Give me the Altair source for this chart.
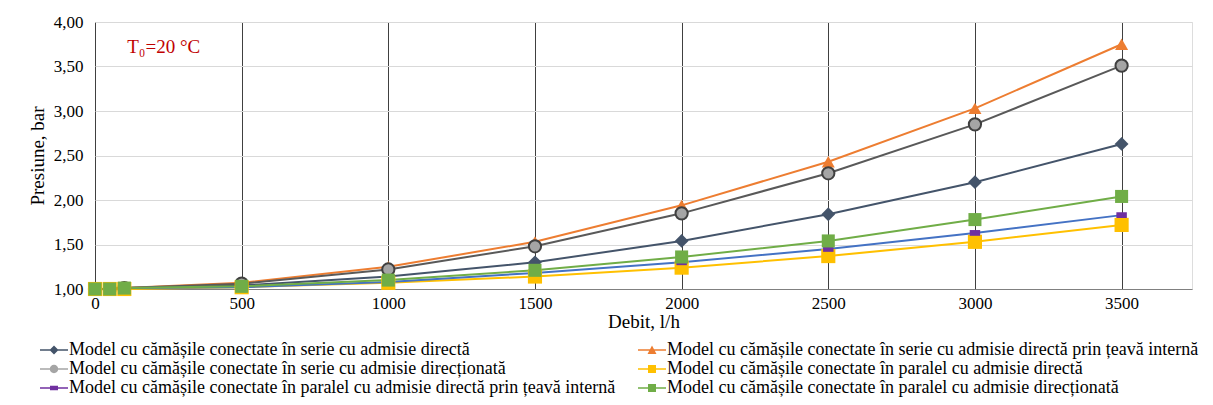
import altair as alt
import pandas as pd

debit = [0, 50, 100, 500, 1000, 1500, 2000, 2500, 3000, 3500]

series_names = [
    "Model cu cămășile conectate în serie cu admisie directă",
    "Model cu cămășile conectate în serie cu admisie directă prin țeavă internă",
    "Model cu cămășile conectate în serie cu admisie direcționată",
    "Model cu cămășile conectate în paralel cu admisie directă",
    "Model cu cămășile conectate în paralel cu admisie directă prin țeavă internă",
    "Model cu cămășile conectate în paralel cu admisie direcționată",
]

serie_directa = [1.00, 1.00, 1.01, 1.04, 1.14, 1.30, 1.54, 1.84, 2.20, 2.63]
serie_teava = [1.00, 1.00, 1.01, 1.07, 1.25, 1.53, 1.94, 2.43, 3.03, 3.75]
serie_directionata = [1.00, 1.00, 1.01, 1.06, 1.22, 1.48, 1.85, 2.30, 2.85, 3.51]
paralel_directa = [1.00, 1.00, 1.00, 1.02, 1.07, 1.14, 1.24, 1.37, 1.53, 1.72]
paralel_teava = [1.00, 1.00, 1.01, 1.02, 1.08, 1.18, 1.30, 1.45, 1.63, 1.83]
paralel_directionata = [1.00, 1.00, 1.01, 1.03, 1.10, 1.21, 1.36, 1.54, 1.78, 2.04]

values = [serie_directa, serie_teava, serie_directionata,
          paralel_directa, paralel_teava, paralel_directionata]

line_colors = ["#44546a", "#ed7d31", "#595959", "#ffc000", "#4472c4", "#70ad47"]
fill_colors = ["#44546a", "#ed7d31", "#a5a5a5", "#ffc000", "#7030a0", "#70ad47"]
stroke_colors = ["#44546a", "#ed7d31", "#404040", "#ffc000", "#7030a0", "#70ad47"]
stroke_widths = [0, 0, 2, 0, 0, 0]
point_shapes = ["diamond", "triangle-up", "circle", "square",
                "M-1,-0.55H1V0.55H-1Z", "square"]
point_sizes = [190, 170, 150, 200, 110, 170]

# legend symbols: line segment + marker (unit coords, scaled by sqrt(size)/2)
bar = "M-1.4,-0.08H1.4V0.08H-1.4Z "
legend_paths = [
    bar + "M0,-0.45L0.45,0L0,0.45L-0.45,0Z",
    bar + "M0,-0.45L0.45,0.4L-0.45,0.4Z",
    bar + "M0.42,0A0.42,0.42 0 1,1 -0.42,0A0.42,0.42 0 1,1 0.42,0Z",
    bar + "M-0.4,-0.4H0.4V0.4H-0.4Z",
    bar + "M-0.4,-0.22H0.4V0.22H-0.4Z",
    bar + "M-0.4,-0.4H0.4V0.4H-0.4Z",
]
# legend display order (column-major: left column then right column)
legend_order = [0, 2, 4, 1, 3, 5]

annot_x = [110]
annot_y = [3.72]
annot_text = ["T₀=20 °C"]

rows = []
for i, name in enumerate(series_names):
    for xv, yv in zip(debit, values[i]):
        rows.append({
            "series": name, "order": i, "debit": xv, "pres": yv,
            "lc": line_colors[i], "fc": fill_colors[i], "sc": stroke_colors[i],
            "sw": stroke_widths[i], "shp": point_shapes[i], "sz": point_sizes[i],
        })
df = pd.DataFrame(rows)

FONT = "Liberation Serif"
xscale = alt.Scale(domain=[0, 3740], nice=False, zero=False)
yscale = alt.Scale(domain=[1, 4], nice=False, zero=False)

xaxis = alt.Axis(values=[0, 500, 1000, 1500, 2000, 2500, 3000, 3500], format="d",
                 title="Debit, l/h", grid=True, gridColor="#404040", gridWidth=1,
                 ticks=False, domainColor="#808080", labelFont=FONT, labelFontSize=17,
                 labelColor="#000000", titleFont=FONT, titleFontSize=19,
                 titleFontWeight="normal", titleColor="#000000", labelPadding=6,
                 titlePadding=1, labelFlush=False)
yaxis = alt.Axis(values=[1, 1.5, 2, 2.5, 3, 3.5, 4], title="Presiune, bar",
                 grid=True, gridColor="#d9d9d9", gridWidth=1, ticks=False,
                 domain=False, labelFont=FONT, labelFontSize=17, labelColor="#000000",
                 labelExpr="replace(format(datum.value, '.2f'), '.', ',')",
                 titleFont=FONT, titleFontSize=19, titleFontWeight="normal",
                 titleColor="#000000", labelPadding=12, titlePadding=6)

base = alt.Chart(df)

lines = base.mark_line(strokeWidth=2).encode(
    x=alt.X("debit:Q", scale=xscale, axis=xaxis),
    y=alt.Y("pres:Q", scale=yscale, axis=yaxis),
    color=alt.Color("lc:N", scale=None),
    detail="series:N",
    order="debit:Q",
)

points = base.mark_point(filled=True, opacity=1).encode(
    x="debit:Q",
    y="pres:Q",
    shape=alt.Shape("shp:N", scale=None),
    fill=alt.Fill("fc:N", scale=None),
    stroke=alt.Stroke("sc:N", scale=None),
    strokeWidth=alt.StrokeWidth("sw:Q", scale=None),
    size=alt.Size("sz:Q", scale=None),
)

leg_names = [series_names[k] for k in legend_order]
leg_paths = [legend_paths[k] for k in legend_order]
leg_fills = [fill_colors[k] for k in legend_order]

leg_df = pd.DataFrame({"series": leg_names, "debit": [0] * 6, "pres": [1.0] * 6})
legend_layer = alt.Chart(leg_df).mark_point(filled=True, opacity=0, size=10).encode(
    x="debit:Q",
    y="pres:Q",
    shape=alt.Shape("series:N", scale=alt.Scale(domain=leg_names, range=leg_paths),
                    legend=alt.Legend(title=None, orient="none", legendX=-51, legendY=318,
                                      columns=2, columnPadding=22, rowPadding=0,
                                      symbolSize=400, symbolOpacity=1, symbolStrokeWidth=0,
                                      labelFont=FONT, labelFontSize=18, labelColor="#000000",
                                      labelOffset=5, labelLimit=800, padding=0)),
    fill=alt.Fill("series:N", scale=alt.Scale(domain=leg_names, range=leg_fills)),
)

annot_df = pd.DataFrame({"x": annot_x, "y": annot_y, "t": annot_text})
annot = alt.Chart(annot_df).mark_text(align="left", baseline="middle", font=FONT,
                                      fontSize=19, color="#c00000").encode(
    x="x:Q", y="y:Q", text="t:N")

chart = alt.layer(lines, legend_layer, points, annot).properties(
    width=1097, height=267,
    autosize=alt.AutoSizeParams(type="none"),
    padding={"left": 87, "top": 14, "right": 13, "bottom": 108},
).configure_view(stroke="#808080", strokeWidth=1).configure(background="#ffffff")

chart.save("out.html", embed_options={"renderer": "svg", "actions": False})
